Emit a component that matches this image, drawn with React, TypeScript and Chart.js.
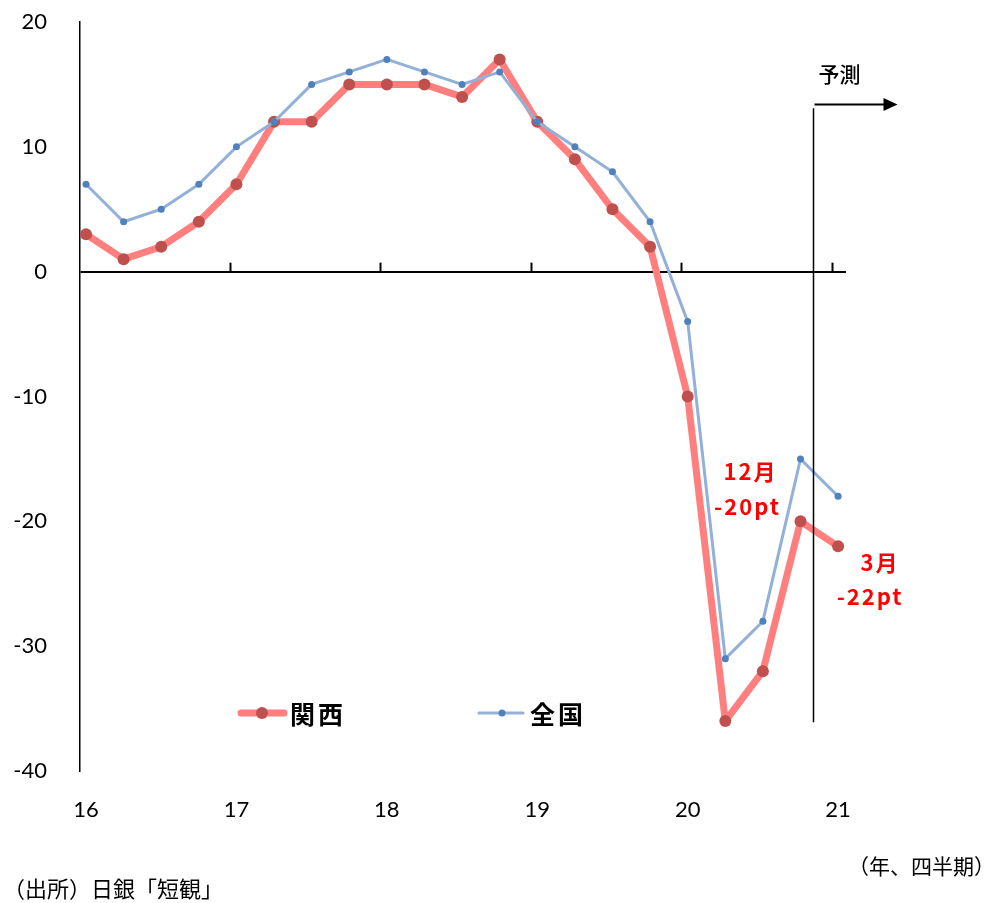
import React, { useEffect, useRef } from "react";
import { Chart, registerables } from "chart.js";

Chart.register(...registerables);

// ---- data ----
const yearLabels = ["16", "17", "18", "19", "20", "21"];
const kansai = [3, 1, 2, 4, 7, 12, 12, 15, 15, 15, 14, 17, 12, 9, 5, 2, -10, -36, -32, -20, -22];
const national = [7, 4, 5, 7, 10, 12, 15, 16, 17, 16, 15, 16, 12, 10, 8, 4, -4, -31, -28, -15, -18];
const seriesNames = ["関西", "全国"];
const forecastLabel = "予測";
const noteDec = ["12月", "-20pt"];
const noteMar = ["3月", "-22pt"];
const sourceText = "（出所）日銀「短観」";
const unitText = "（年、四半期）";
const yMin = -40;
const yMax = 20;
const yStep = 10;

const CJK = '"Noto Sans CJK JP", "Noto Sans", sans-serif';
const NUM = 'Lato, "Noto Sans", sans-serif';

const KANSAI_LINE = "#FF7F7F";
const KANSAI_PT = "#C0504D";
const NAT_LINE = "#93B1D8";
const NAT_PT = "#4F81BD";

export default function App() {
  const ref = useRef<HTMLCanvasElement | null>(null);

  useEffect(() => {
    document.body.style.margin = "0";
    const canvas = ref.current;
    if (!canvas) return;

    const overlay = {
      id: "overlay",
      afterDatasetsDraw(chart: any) {
        const { ctx, scales } = chart;
        const x = scales.x;
        const y = scales.y;
        const y0 = y.getPixelForValue(0);
        ctx.save();
        // year tick marks on the zero line
        ctx.strokeStyle = "#000";
        ctx.lineWidth = 2;
        for (let k = 1; k <= yearLabels.length - 1; k++) {
          const px = Math.round(x.getPixelForValue(4 * k - 0.17)) + 0.5;
          ctx.beginPath();
          ctx.moveTo(px, y0);
          ctx.lineTo(px, y0 - 9);
          ctx.stroke();
        }
        // forecast divider
        const fx = Math.round(x.getPixelForValue(19.32)) + 0.5;
        ctx.lineWidth = 1.5;
        ctx.beginPath();
        ctx.moveTo(fx, y.getPixelForValue(13.1));
        ctx.lineTo(fx, y.getPixelForValue(-36.1));
        ctx.stroke();
        const ay = Math.round(y.getPixelForValue(13.4)) + 0.5;
        ctx.lineWidth = 2;
        ctx.beginPath();
        ctx.moveTo(fx + 1, ay);
        ctx.lineTo(fx + 72, ay);
        ctx.stroke();
        ctx.fillStyle = "#000";
        ctx.beginPath();
        ctx.moveTo(fx + 70, ay - 6.5);
        ctx.lineTo(fx + 84, ay);
        ctx.lineTo(fx + 70, ay + 6.5);
        ctx.closePath();
        ctx.fill();
        ctx.font = `500 21px ${CJK}`;
        ctx.textAlign = "center";
        ctx.textBaseline = "middle";
        ctx.fillText(forecastLabel, fx + 26, ay - 30);

        // red notes
        ctx.fillStyle = "#FF0000";
        ctx.font = `bold 22px ${CJK}`;
        (ctx as any).letterSpacing = "2px";
        const p19x = x.getPixelForValue(19);
        const p19y = y.getPixelForValue(kansai[19]);
        ctx.fillText(noteDec[0], p19x - 50, p19y - 50);
        ctx.fillText(noteDec[1], p19x - 53, p19y - 15);
        const p20x = x.getPixelForValue(20);
        const p20y = y.getPixelForValue(kansai[20]);
        ctx.fillText(noteMar[0], p20x + 42, p20y + 16);
        ctx.fillText(noteMar[1], p20x + 32, p20y + 50);
        (ctx as any).letterSpacing = "0px";

        // legend
        const ly = 713;
        ctx.lineCap = "round";
        ctx.strokeStyle = KANSAI_LINE;
        ctx.lineWidth = 7;
        ctx.beginPath();
        ctx.moveTo(241, ly);
        ctx.lineTo(284, ly);
        ctx.stroke();
        ctx.fillStyle = KANSAI_PT;
        ctx.beginPath();
        ctx.arc(262, ly, 6, 0, Math.PI * 2);
        ctx.fill();
        ctx.strokeStyle = NAT_LINE;
        ctx.lineWidth = 3;
        ctx.beginPath();
        ctx.moveTo(479, ly);
        ctx.lineTo(523, ly);
        ctx.stroke();
        ctx.fillStyle = NAT_PT;
        ctx.beginPath();
        ctx.arc(502, ly, 3.5, 0, Math.PI * 2);
        ctx.fill();
        ctx.fillStyle = "#000";
        ctx.font = `bold 25px ${CJK}`;
        ctx.textAlign = "left";
        ctx.textBaseline = "middle";
        (ctx as any).letterSpacing = "3px";
        ctx.fillText(seriesNames[0], 290, ly + 1);
        ctx.fillText(seriesNames[1], 530, ly + 1);
        (ctx as any).letterSpacing = "0px";

        // footer texts
        ctx.font = `22px ${CJK}`;
        ctx.textAlign = "left";
        ctx.fillText(sourceText, 3, 889);
        ctx.textAlign = "right";
        ctx.font = `21px ${CJK}`;
        ctx.fillText(unitText, 995, 866);
        ctx.restore();
      },
    };

    const chart = new Chart(canvas, {
      type: "line",
      data: {
        datasets: [
          {
            label: seriesNames[0],
            data: kansai.map((v, i) => ({ x: i, y: v })),
            borderColor: KANSAI_LINE,
            borderWidth: 7,
            pointRadius: 6,
            pointBackgroundColor: KANSAI_PT,
            pointBorderWidth: 0,
            borderJoinStyle: "round",
            order: 1,
          },
          {
            label: seriesNames[1],
            data: national.map((v, i) => ({ x: i, y: v })),
            borderColor: NAT_LINE,
            borderWidth: 3,
            pointRadius: 3.5,
            pointBackgroundColor: NAT_PT,
            pointBorderWidth: 0,
            order: 0,
          },
        ],
      },
      options: {
        responsive: false,
        animation: false,
        devicePixelRatio: 1,
        layout: { padding: { left: 0, top: 22, right: 146, bottom: 62 } },
        plugins: { legend: { display: false }, tooltip: { enabled: false } },
        scales: {
          x: {
            type: "linear",
            min: -0.16,
            max: 20.21,
            grid: { display: false },
            border: { display: false },
            afterBuildTicks: (scale: any) => {
              scale.ticks = yearLabels.map((_, k) => ({ value: k * 4 }));
            },
            afterFit: (scale: any) => {
              scale.height = 70;
              scale.paddingLeft = 0;
              scale.paddingRight = 0;
            },
            ticks: {
              autoSkip: false,
              maxRotation: 0,
              padding: 18,
              color: "#000",
              font: { family: NUM, size: 22 },
              callback: (v: any) => yearLabels[Math.round(Number(v) / 4)] ?? "",
            },
          },
          y: {
            min: yMin,
            max: yMax,
            afterFit: (scale: any) => {
              scale.width = 80;
              scale.paddingTop = 0;
              scale.paddingBottom = 0;
            },
            ticks: {
              stepSize: yStep,
              padding: 33,
              color: "#000",
              font: { family: NUM, size: 22 },
            },
            grid: {
              drawTicks: false,
              color: (c: any) => (c.tick && c.tick.value === 0 ? "#000" : "rgba(0,0,0,0)"),
              lineWidth: 2,
            },
            border: { display: true, color: "#000", width: 1.5 },
          },
        },
      },
      plugins: [overlay],
    });

    return () => chart.destroy();
  }, []);

  return (
    <div style={{ width: 992, height: 903, background: "#fff" }}>
      <canvas ref={ref} width={992} height={903} style={{ display: "block" }} />
    </div>
  );
}
